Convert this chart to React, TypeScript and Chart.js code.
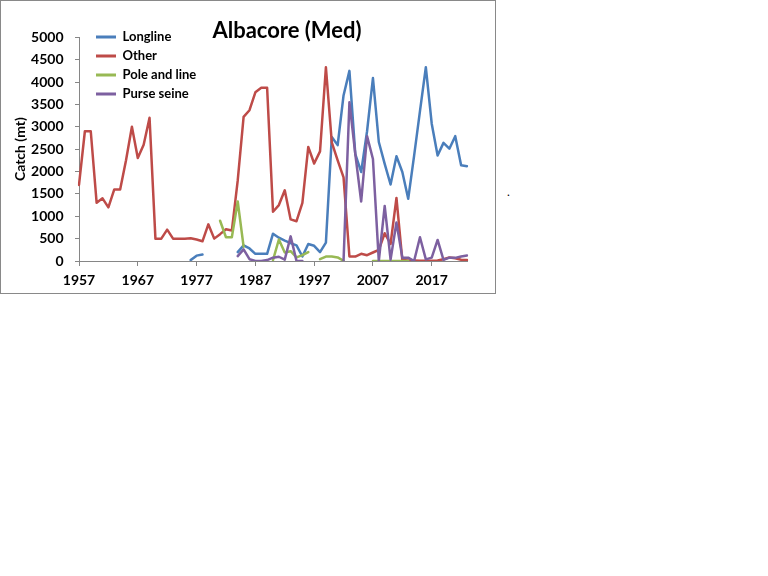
import { useEffect, useRef } from "react"
import { Chart, registerables } from "chart.js"

Chart.register(...registerables)

const years = [
  "1957", "1958", "1959", "1960", "1961", "1962", "1963", "1964", "1965", "1966",
  "1967", "1968", "1969", "1970", "1971", "1972", "1973", "1974", "1975", "1976",
  "1977", "1978", "1979", "1980", "1981", "1982", "1983", "1984", "1985", "1986",
  "1987", "1988", "1989", "1990", "1991", "1992", "1993", "1994", "1995", "1996",
  "1997", "1998", "1999", "2000", "2001", "2002", "2003", "2004", "2005", "2006",
  "2007", "2008", "2009", "2010", "2011", "2012", "2013", "2014", "2015", "2016",
  "2017", "2018", "2019", "2020", "2021", "2022", "2023",
]

// only these years get a tick mark and a label
const tickYears = ["1957", "1967", "1977", "1987", "1997", "2007", "2017"]

const longline = [
  null, null, null, null, null, null, null, null, null, null,
  null, null, null, null, null, null, null, null, null, 20,
  120, 145, null, null, null, null, null, 200, 350, 280,
  160, 160, 160, 610, 520, 455, 400, 350, 100, 380,
  340, 200, 410, 2770, 2590, 3700, 4250, 2390, 1990, 2900,
  4090, 2660, 2170, 1710, 2340, 1990, 1390, 2350, 3350, 4330,
  3070, 2360, 2640, 2510, 2790, 2140, 2120,
]

const other = [
  1700, 2900, 2900, 1300, 1400, 1200, 1600, 1600, 2250, 3000,
  2300, 2600, 3200, 500, 500, 700, 500, 500, 500, 510,
  480, 440, 820, 500, 600, 710, 680, 1800, 3220, 3370,
  3770, 3870, 3870, 1100, 1250, 1580, 930, 890, 1300, 2550,
  2180, 2450, 4330, 2650, 2250, 1870, 100, 100, 160, 130,
  190, 250, 620, 380, 1410, 20, 10, 10, 5, 5,
  5, 10, 40, 80, 60, 30, 20,
]

const poleAndLine = [
  null, null, null, null, null, null, null, null, null, null,
  null, null, null, null, null, null, null, null, null, null,
  null, null, null, null, 900, 530, 530, 1330, 320, null,
  null, null, null, 20, 480, 190, 220, 80, 130, 200,
  null, 40, 100, 100, 80, 5, null, null, null, null,
  0, 0, 0, 0, 0, 0, 0, null, null, null,
  null, null, null, null, null, null, null,
]

const purseSeine = [
  null, null, null, null, null, null, null, null, null, null,
  null, null, null, null, null, null, null, null, null, null,
  null, null, null, null, null, null, null, 110, 260, 40,
  0, 0, 20, 75, 95, 30, 550, 0, 0, null,
  null, null, null, null, null, 0, 3550, 2390, 1330, 2790,
  2280, 0, 1230, 30, 860, 75, 75, 0, 530, 37,
  75, 470, 25, 75, 70, 100, 125,
]

const font = "Lato, 'Open Sans', sans-serif"
const axisGray = "#868686"

// title and legend sit inside the plot like in the spreadsheet chart
const placeBoxes = {
  id: "placeBoxes",
  afterLayout(chart: Chart) {
    const area = chart.chartArea
    const legend = chart.legend
    if (legend) {
      legend.left = area.left + 11
      legend.top = area.top - 12.8
    }
    const title = (chart as any).titleBlock
    if (title) {
      title.left = 136
      title.right = 436
    }
  },
}

function series(label: string, data: (number | null)[], color: string, order: number) {
  return {
    label,
    data,
    borderColor: color,
    backgroundColor: color,
    borderWidth: 2.5,
    borderJoinStyle: "round" as const,
    borderCapStyle: "round" as const,
    pointRadius: 0,
    tension: 0,
    order,
  }
}

export default function App() {
  const chartRef = useRef<HTMLCanvasElement | null>(null)
  const chartInstance = useRef<Chart | null>(null)

  useEffect(() => {
    if (!chartRef.current) return
    if (chartInstance.current) chartInstance.current.destroy()

    chartInstance.current = new Chart(chartRef.current, {
      type: "line",
      data: {
        labels: years,
        datasets: [
          series("Longline", longline, "#4A7EBB", 4),
          series("Other", other, "#BE4B48", 3),
          series("Pole and line", poleAndLine, "#98B954", 2),
          series("Purse seine", purseSeine, "#7D60A0", 1),
        ],
      },
      options: {
        responsive: true,
        maintainAspectRatio: false,
        animation: false,
        layout: { padding: { left: 0, right: 28, top: 0, bottom: 0 } },
        scales: {
          x: {
            grid: {
              display: true,
              drawOnChartArea: false,
              tickLength: 5,
              color: axisGray,
            },
            border: { color: axisGray },
            afterFit: (axis) => {
              axis.height = 32
            },
            ticks: {
              autoSkip: false,
              maxRotation: 0,
              padding: 6.4,
              color: "#000",
              font: { family: font, size: 14, weight: "bold" },
              callback: (value) => {
                const label = years[Number(value)]
                return tickYears.includes(label) ? label : null
              },
            },
          },
          y: {
            min: 0,
            max: 5000,
            grid: {
              display: true,
              drawOnChartArea: false,
              tickLength: 4,
              color: axisGray,
            },
            border: { color: axisGray },
            afterFit: (axis) => {
              axis.width = 78
            },
            ticks: {
              stepSize: 500,
              padding: 11.5,
              color: "#000",
              font: { family: font, size: 14, weight: "bold" },
              callback: (value) => String(value),
            },
            title: {
              display: true,
              text: "Catch (mt)",
              color: "#000",
              padding: { top: 10.6, bottom: 0 },
              font: { family: font, size: 14, weight: "bold" },
            },
          },
        },
        plugins: {
          title: {
            display: true,
            text: "Albacore (Med)",
            color: "#000",
            padding: { top: 16.8, bottom: -6.9 },
            font: { family: font, size: 22, weight: "bold" },
          },
          legend: {
            position: "chartArea",
            align: "start",
            labels: {
              boxWidth: 20,
              boxHeight: 3,
              padding: 6,
              color: "#000",
              font: { family: font, size: 13, weight: "bold" },
              sort: (a, b) => (a.datasetIndex ?? 0) - (b.datasetIndex ?? 0),
              generateLabels: (chart) =>
                Chart.defaults.plugins.legend.labels
                  .generateLabels(chart)
                  .map((item) => ({ ...item, lineWidth: 0 })),
            },
          },
          tooltip: { enabled: false },
        },
      },
      plugins: [placeBoxes],
    })

    return () => {
      if (chartInstance.current) {
        chartInstance.current.destroy()
        chartInstance.current = null
      }
    }
  }, [])

  return (
    <>
      <div
        style={{
          position: "absolute",
          left: 0,
          top: 0,
          width: 496,
          height: 294,
          boxSizing: "border-box",
          border: "1px solid #898989",
          background: "#fff",
        }}
      >
        <canvas ref={chartRef} />
      </div>
      <span
        style={{
          position: "absolute",
          left: 507,
          top: 184,
          fontFamily: font,
          fontSize: 12,
        }}
      >
        .
      </span>
    </>
  )
}
